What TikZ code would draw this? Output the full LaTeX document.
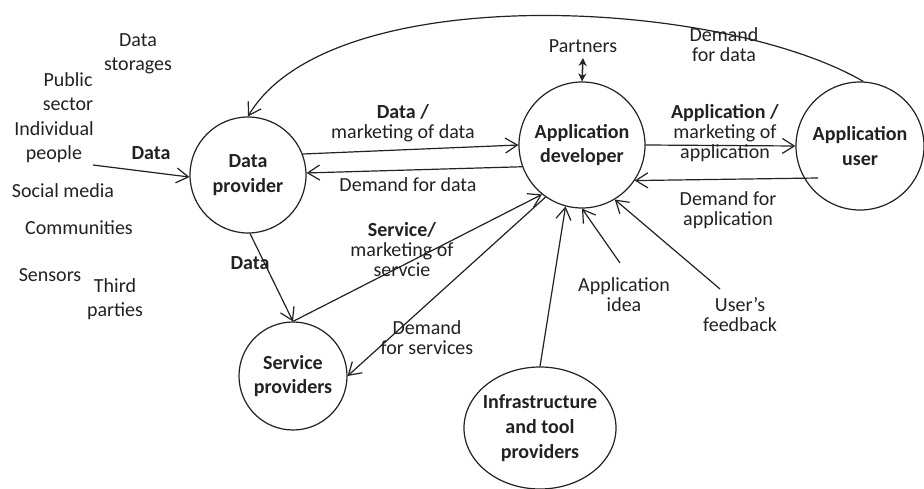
\documentclass[tikz,border=0pt]{standalone}
\usepackage{fontspec}
\setmainfont{Carlito}
\usetikzlibrary{arrows.meta,shapes.geometric}
\definecolor{ink}{HTML}{222222}

\begin{document}
\begin{tikzpicture}[x=1pt,y=-1pt,
  every node/.style={font=\fontsize{20}{24}\selectfont, text=ink, inner sep=0pt, align=center},
  lbl/.style={font=\fontsize{20}{20}\selectfont},
  party/.style={draw=ink, line width=1.2pt, circle, minimum size=#1,
    font=\bfseries\fontsize{20}{24.5}\selectfont},
  flow/.style={draw=ink, line width=1.2pt, -{Straight Barb[length=12pt,width=15pt]}},
  twoway/.style={draw=ink, line width=1.5pt,
    {Stealth[length=8pt,width=8pt]}-{Stealth[length=8pt,width=8pt]}}
]
\useasboundingbox[fill=white] (0,0) rectangle (924,489);

% actors
\node[party=116] (dp) at (248,175) {Data\\provider};
\node[party=126] (ad) at (582,145) {Application\\developer};
\node[party=128] (au) at (860,146) {Application\\user};
\node[party=108] (sp) at (293,376) {Service\\providers};
\node[draw=ink, line width=1.2pt, ellipse, minimum width=152, minimum height=122,
      label={[font=\bfseries\fontsize{20}{25}\selectfont, text=ink, align=center]center:Infrastructure\\and tool\\providers}]
      (inf) at (540,428) {};

% data sources
\node at (138,54) {Data\\storages};
\node at (68,92) {Public\\sector};
\node at (54,142) {Individual\\people};
\node at (63,191) {Social media};
\node at (79,228) {Communities};
\node at (50,275) {Sensors};
\node at (115,299) {Third\\parties};
\node[font=\bfseries\fontsize{20}{24}\selectfont] (dlab) at (151,153) {Data};

% free ends
\coordinate (src) at (93,165);
\coordinate (auin) at (818,178);
\coordinate (partners) at (583,58);
\coordinate (idea) at (620,263);
\coordinate (feedback) at (720,289);

% flows
\draw[flow] (src) -- (dp.182);
\draw[flow] (dp.21) -- (ad.180);
\draw[flow] (ad.200) -- (dp.2);
\draw[flow] (ad.0) -- (au.180);
\draw[flow] (auin) -- (ad.-34);
\draw[flow] (au.87) .. controls (720,-2) and (330,-22) .. (dp.90);
\draw[flow] (dp.-88) -- (sp.90);
\draw[flow] (sp.90) -- (ad.231);
\draw[flow] (ad.235) -- (sp.0);
\draw[flow] (inf.90) -- (ad.255);
\draw[flow] (idea) -- (ad.270);
\draw[flow] (feedback) -- (ad.-59);
\draw[twoway] (partners) -- (ad.90);

% flow labels
\node at (583,46) {Partners};
\node[lbl] at (403,123) {\textbf{Data /}\\marketing of data};
\node[lbl] at (408,185) {Demand for data};
\node[lbl] at (725,133) {\textbf{Application /}\\marketing of\\application};
\node[lbl] at (728,210) {Demand for\\application};
\node[lbl] at (724,45) {Demand\\for data};
\node[font=\bfseries\fontsize{20}{24}\selectfont] at (250,263) {Data};
\node[lbl] at (402,250) {\textbf{Service/}\\marketing of\\servcie};
\node[lbl] at (427,338) {Demand\\for services};
\node[lbl] at (624,295) {Application\\idea};
\node[lbl] at (740,315) {User’s\\feedback};
\end{tikzpicture}
\end{document}
